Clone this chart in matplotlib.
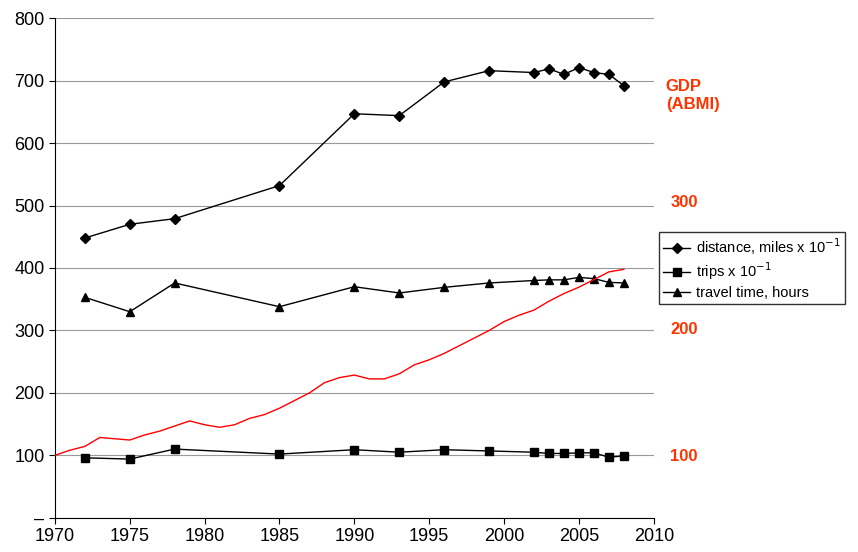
import matplotlib.pyplot as plt

plt.rcParams['font.family'] = ['Liberation Sans', 'DejaVu Sans']

years = [1972, 1975, 1978, 1985, 1990, 1993, 1996, 1999, 2002, 2003, 2004, 2005, 2006, 2007, 2008]
distance = [448, 470, 479, 532, 647, 644, 698, 716, 713, 719, 710, 721, 713, 710, 692]
trips = [96, 94, 110, 102, 109, 105, 109, 107, 105, 103, 103, 104, 104, 97, 99]
travel_time = [353, 330, 376, 338, 370, 360, 369, 376, 380, 381, 381, 385, 383, 377, 376]

gdp_years = list(range(1970, 2009))
gdp = [100, 104, 107, 114, 113, 112, 116, 119, 123, 127, 124, 122, 124, 129, 132, 137, 143,
       149, 157, 161, 163, 160, 160, 164, 171, 175, 180, 186, 192, 198, 205, 210, 214, 221,
       227, 232, 238, 244, 246]

fig = plt.figure(figsize=(8.58, 5.52), dpi=100)
ax = fig.add_axes([0.064, 0.062, 0.698, 0.905])
ax.set_xlim(1970, 2010)
ax.set_ylim(0, 800)
ax.set_yticks(range(0, 801, 100))
ax.set_yticklabels(['–'] + [str(v) for v in range(100, 801, 100)])
ax.set_xticks(range(1970, 2011, 5))
ax.grid(axis='y', color='#999999', linewidth=0.8)
ax.set_axisbelow(True)
ax.tick_params(labelsize=13, length=4)
for s in ['top', 'right']:
    ax.spines[s].set_visible(False)

ax.plot(years, distance, 'k-', marker='D', markersize=5, linewidth=1, label='distance, miles x 10$^{-1}$')
ax.plot(years, trips, 'k-', marker='s', markersize=6, linewidth=1, label='trips x 10$^{-1}$')
ax.plot(years, travel_time, 'k-', marker='^', markersize=6, linewidth=1, label='travel time, hours')

ax2 = ax.twinx()
ax2.set_ylim(100 + (0 - 100) / 2.04, 100 + (800 - 100) / 2.04)
ax2.plot(gdp_years, gdp, color='red', linewidth=1)
ax2.set_yticks([100, 200, 300])
ax2.tick_params(length=0, pad=12, labelsize=12, labelcolor='#ff3300')
for t in ax2.get_yticklabels():
    t.set_fontweight('bold')
for s in ax2.spines.values():
    s.set_visible(False)
ax2.text(1.02, 0.845, 'GDP\n(ABMI)', transform=ax.transAxes, color='#ff3300',
         fontsize=12, fontweight='bold', va='center', ha='left')

ax.legend(loc='center left', bbox_to_anchor=(1.004, 0.5), fontsize=10.5, frameon=True,
          fancybox=False, edgecolor='black', handlelength=1.8, handletextpad=0.4,
          borderpad=0.3, labelspacing=0.25, borderaxespad=0.2)

fig.savefig('out.png', dpi=100)
